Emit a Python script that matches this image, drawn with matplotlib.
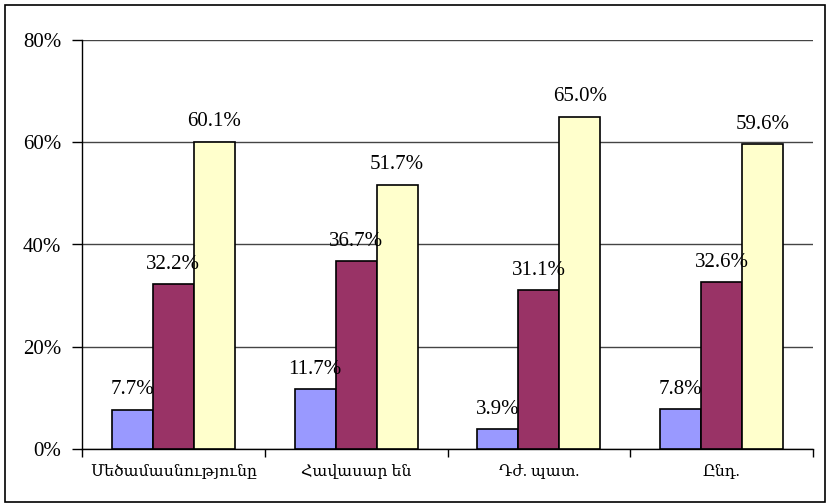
import matplotlib
matplotlib.use('Agg')
import matplotlib.pyplot as plt
import numpy as np

categories = ['Մեծամասնությունը', 'Հավասար են', 'Դժ. պատ.', 'Ընդ.']
series1 = [7.7, 11.7, 3.9, 7.8]
series2 = [32.2, 36.7, 31.1, 32.6]
series3 = [60.1, 51.7, 65.0, 59.6]
colors = ['#9999FF', '#993366', '#FFFFCC']
yticks = [0, 20, 40, 60, 80]

plt.rcParams['font.family'] = ['Liberation Serif', 'DejaVu Serif']

fig = plt.figure(figsize=(8.27, 5.03), dpi=100)
ax = fig.add_axes([82 / 827, 54 / 503, 731 / 827, 409 / 503])

x = np.arange(len(categories))
w = 0.224
for i, (vals, c) in enumerate(zip([series1, series2, series3], colors)):
    pos = x + (i - 1) * w
    ax.bar(pos, vals, w, color=c, edgecolor='black', linewidth=1.2, zorder=3)
    for px, v in zip(pos, vals):
        ax.annotate('%.1f%%' % v, (px, v), xytext=(0, 11), textcoords='offset points',
                    ha='center', va='baseline', fontsize=15, zorder=4)

ax.set_xlim(-0.5, len(categories) - 0.5)
ax.set_ylim(0, 80)
ax.set_yticks(yticks)
ax.set_yticklabels(['%d%%' % t for t in yticks], fontsize=15)
ax.yaxis.grid(True, color='#444444', linewidth=1, zorder=0)

ax.set_xticks(x)
ax.set_xticklabels(categories, fontsize=11.3)
ax.set_xticks(np.arange(len(categories) + 1) - 0.5, minor=True)
ax.tick_params(axis='x', which='major', length=0, pad=11)
ax.tick_params(axis='x', which='minor', length=6, direction='out', width=1)
ax.tick_params(axis='y', length=7, direction='out', width=1, pad=8)

for s in ['top', 'right']:
    ax.spines[s].set_visible(False)
for s in ['left', 'bottom']:
    ax.spines[s].set_color('black')
    ax.spines[s].set_linewidth(1)

border = plt.Rectangle((5 / 827, 1 / 503), 820 / 827, 497 / 503, transform=fig.transFigure,
                       fill=False, edgecolor='black', linewidth=1.2)
fig.patches.append(border)

fig.savefig('out.png', dpi=100)
